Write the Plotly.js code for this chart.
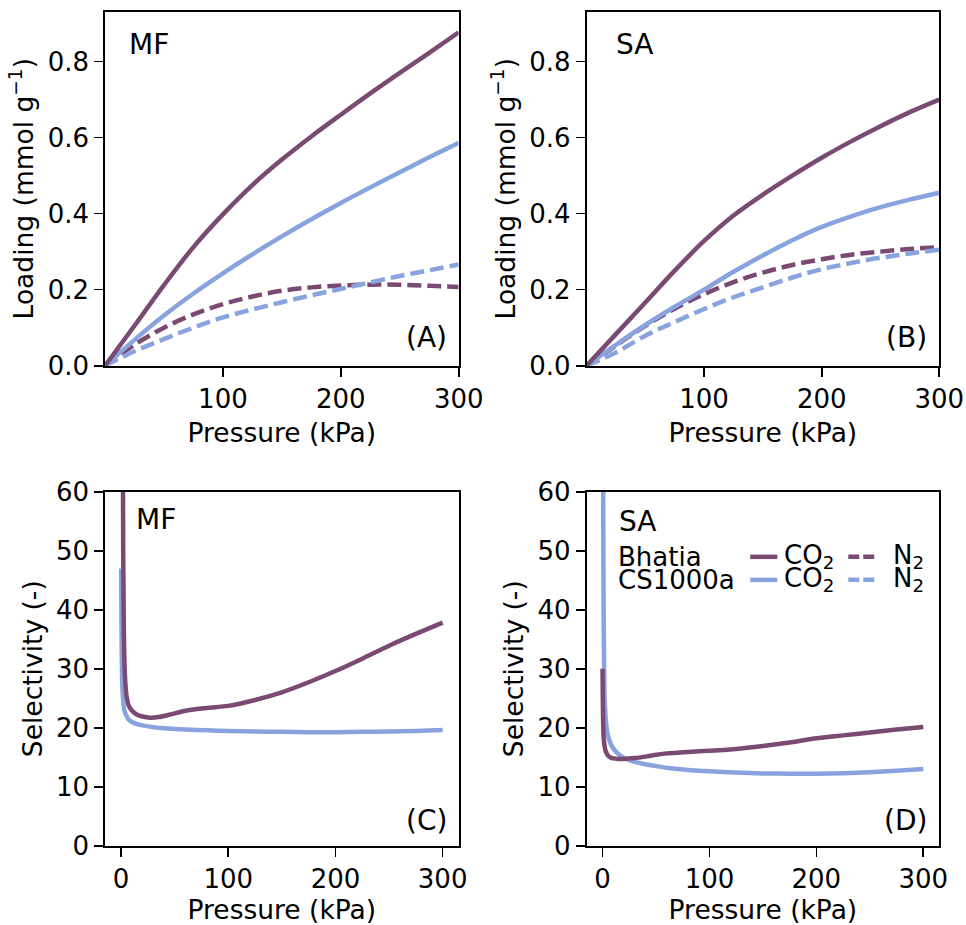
<!DOCTYPE html>
<html>
<head>
<meta charset="utf-8">
<script src="https://cdn.plot.ly/plotly-3.0.1.min.js"></script>
<style>html,body{margin:0;padding:0;background:#fff}#chart{width:966px;height:925px}</style>
</head>
<body>
<div id="chart"></div>
<script>
// ---------- data ----------
const pressureLoad = [0,25,50,75,100,125,150,175,200,225,250,275,300];

const mfBhatiaCO2 = [0,0.105,0.212,0.312,0.398,0.475,0.542,0.603,0.66,0.716,0.77,0.823,0.877];
const mfCSCO2     = [0,0.068,0.132,0.19,0.243,0.293,0.34,0.385,0.428,0.469,0.509,0.548,0.586];
const mfBhatiaN2  = [0,0.055,0.10,0.135,0.162,0.182,0.197,0.206,0.211,0.213,0.213,0.21,0.207];
const mfCSN2      = [0,0.038,0.07,0.10,0.127,0.148,0.167,0.185,0.202,0.219,0.236,0.251,0.266];

const saBhatiaCO2 = [0,0.083,0.166,0.25,0.328,0.395,0.45,0.50,0.547,0.59,0.63,0.667,0.70];
const saCSCO2     = [0,0.055,0.107,0.155,0.20,0.247,0.29,0.33,0.365,0.393,0.417,0.437,0.455];
const saBhatiaN2  = [0,0.053,0.105,0.15,0.188,0.22,0.245,0.265,0.28,0.292,0.30,0.307,0.312];
const saCSN2      = [0,0.035,0.079,0.115,0.149,0.18,0.206,0.232,0.254,0.27,0.284,0.295,0.305];

const pSelMFBhatia = [1.5,2,2.5,3,4,5,7,10,15,20,27,35,45,58,77,100,125,150,175,200,225,250,275,300];
const selMFBhatia  = [75,50,38,32,27.5,25.5,23.8,22.9,22.2,21.9,21.7,21.8,22.2,22.8,23.3,23.7,24.7,26.0,27.7,29.6,31.7,33.9,35.9,37.8];

const pSelMFCS = [0,0.5,1,2,3,5,7,10,15,20,30,40,50,60,80,100,125,150,175,200,225,250,275,300];
const selMFCS  = [47,35,28,24.5,23,22,21.4,21.0,20.6,20.4,20.1,19.9,19.8,19.7,19.55,19.45,19.35,19.3,19.25,19.25,19.3,19.35,19.45,19.6];

const pSelSABhatia = [0,0.3,0.7,1.2,2,3,5,7,10,15,20,30,40,50,60,80,100,125,150,175,200,225,250,275,300];
const selSABhatia  = [30,24,20,18,16.8,16.0,15.3,15.0,14.8,14.7,14.7,14.85,15.1,15.4,15.65,15.9,16.1,16.4,16.9,17.5,18.2,18.7,19.2,19.7,20.1];

const pSelSACS = [0.3,0.6,1,1.5,2,3,4,5,7,10,15,20,30,40,50,60,80,100,125,150,175,200,225,250,275,300];
const selSACS  = [90,60,40,30,25,21.5,19.8,18.8,17.5,16.5,15.5,14.9,14.2,13.8,13.5,13.2,12.85,12.6,12.4,12.25,12.2,12.2,12.3,12.45,12.7,13.0];

const xTitle = 'Pressure (kPa)';
const yTitleLoad = 'Loading (mmol g<sup>−1</sup>)';
const yTitleSel = 'Selectivity (-)';

// ---------- style ----------
const DARK = '#7a4a73';
const LIGHT = '#89a3de';
const LW = 4.5;
const DASH = '14px,6px';
const FONT = 'DejaVu Sans';
const FS_TICK = 26;
const FS_TITLE = 26.5;
const FS_ANN = 28;
const FS_LEG = 26;

function tr(x, y, color, dash, xa, ya, smoothing) {
  return {x: x, y: y, type: 'scatter', mode: 'lines', xaxis: xa, yaxis: ya,
    line: {color: color, width: LW, dash: dash || 'solid', shape: 'spline', smoothing: smoothing},
    showlegend: false, hoverinfo: 'skip'};
}

const data = [
  tr(pressureLoad, mfBhatiaN2, DARK, DASH, 'x', 'y', 1),
  tr(pressureLoad, mfCSN2, LIGHT, DASH, 'x', 'y', 1),
  tr(pressureLoad, mfCSCO2, LIGHT, 'solid', 'x', 'y', 1),
  tr(pressureLoad, mfBhatiaCO2, DARK, 'solid', 'x', 'y', 1),
  tr(pressureLoad, saBhatiaN2, DARK, DASH, 'x2', 'y2', 1),
  tr(pressureLoad, saCSN2, LIGHT, DASH, 'x2', 'y2', 1),
  tr(pressureLoad, saCSCO2, LIGHT, 'solid', 'x2', 'y2', 1),
  tr(pressureLoad, saBhatiaCO2, DARK, 'solid', 'x2', 'y2', 1),
  tr(pSelMFCS, selMFCS, LIGHT, 'solid', 'x3', 'y3', 0.5),
  tr(pSelMFBhatia, selMFBhatia, DARK, 'solid', 'x3', 'y3', 0.5),
  tr(pSelSACS, selSACS, LIGHT, 'solid', 'x4', 'y4', 0.5),
  tr(pSelSABhatia, selSABhatia, DARK, 'solid', 'x4', 'y4', 0.5)
];

const W = 966, H = 925;
const colA = [105/W, 458.7/W];
const colB = [586.5/W, 939.3/W];
const rowTop = [(H-365.7)/H, (H-11.7)/H];
const rowBot = [(H-845.7)/H, (H-491.7)/H];

function ax(domain, range, tickvals, anchor, title, fmt, standoff) {
  return {
    domain: domain, range: range, anchor: anchor,
    tickmode: 'array', tickvals: tickvals,
    ticktext: fmt ? tickvals.map(v => v.toFixed(fmt)) : tickvals.map(String),
    ticks: 'outside', ticklen: 9, tickwidth: 1.6, tickcolor: '#000',
    showline: true, linecolor: '#000', linewidth: 1.8, mirror: true,
    showgrid: false, zeroline: false,
    tickfont: {family: FONT, size: FS_TICK, color: '#000'},
    title: {text: title, font: {family: FONT, size: FS_TITLE, color: '#000'}, standoff: standoff},
    fixedrange: true
  };
}

const loadTicks = [0, 0.2, 0.4, 0.6, 0.8];
const selTicks = [0, 10, 20, 30, 40, 50, 60];

const layout = {
  width: W, height: H,
  margin: {l: 0, r: 0, t: 0, b: 0},
  paper_bgcolor: '#fff', plot_bgcolor: '#fff',
  font: {family: FONT, size: FS_TICK, color: '#000'},
  showlegend: false,
  xaxis:  ax(colA, [0, 300], [100, 200, 300], 'y', xTitle, 0, 11),
  yaxis:  ax(rowTop, [0, 0.931], loadTicks, 'x', yTitleLoad, 1, 6),
  xaxis2: ax(colB, [0, 300], [100, 200, 300], 'y2', xTitle, 0, 11),
  yaxis2: ax(rowTop, [0, 0.931], loadTicks, 'x2', yTitleLoad, 1, 6),
  xaxis3: ax(colA, [-15, 315], [0, 100, 200, 300], 'y3', xTitle, 0, 11),
  yaxis3: ax(rowBot, [0, 60], selTicks, 'x3', yTitleSel, 0, 6),
  xaxis4: ax(colB, [-15, 315], [0, 100, 200, 300], 'y4', xTitle, 0, 11),
  yaxis4: ax(rowBot, [0, 60], selTicks, 'x4', yTitleSel, 0, 6),
  annotations: [],
  shapes: []
};

function txt(xr, yr, x, y, text, xanchor, size) {
  return {xref: xr, yref: yr, x: x, y: y, text: text, showarrow: false,
    xanchor: xanchor || 'left', yanchor: 'middle', borderpad: 0,
    font: {family: FONT, size: size || FS_ANN, color: '#000'}};
}

const A = layout.annotations;
A.push(txt('x domain', 'y domain', 0.065, 0.907, 'MF'));
A.push(txt('x2 domain', 'y2 domain', 0.081, 0.907, 'SA'));
A.push(txt('x3 domain', 'y3 domain', 0.085, 0.921, 'MF'));
A.push(txt('x4 domain', 'y4 domain', 0.089, 0.916, 'SA'));
A.push(txt('x domain', 'y domain', 0.97, 0.079, '(A)', 'right'));
A.push(txt('x2 domain', 'y2 domain', 0.969, 0.079, '(B)', 'right'));
A.push(txt('x3 domain', 'y3 domain', 0.97, 0.07, '(C)', 'right'));
A.push(txt('x4 domain', 'y4 domain', 0.969, 0.07, '(D)', 'right'));

// legend (panel D)
const legRows = [
  {label: 'Bhatia', color: DARK, y: 0.816},
  {label: 'CS1000a', color: LIGHT, y: 0.751}
];
legRows.forEach(r => {
  A.push(txt('x4 domain', 'y4 domain', 0.087, r.y, r.label, 'left', FS_LEG));
  A.push(txt('x4 domain', 'y4 domain', 0.558, r.y, 'CO<sub>2</sub>', 'left', FS_LEG));
  A.push(txt('x4 domain', 'y4 domain', 0.865, r.y, 'N<sub>2</sub>', 'left', FS_LEG));
  layout.shapes.push({type: 'line', xref: 'x4 domain', yref: 'y4 domain',
    x0: 0.464, x1: 0.541, y0: r.y, y1: r.y, line: {color: r.color, width: LW}});
  layout.shapes.push({type: 'line', xref: 'x4 domain', yref: 'y4 domain',
    x0: 0.742, x1: 0.826, y0: r.y, y1: r.y, line: {color: r.color, width: LW, dash: '11px,4px'}});
});

Plotly.newPlot('chart', data, layout, {displayModeBar: false, staticPlot: true});
</script>
</body>
</html>
